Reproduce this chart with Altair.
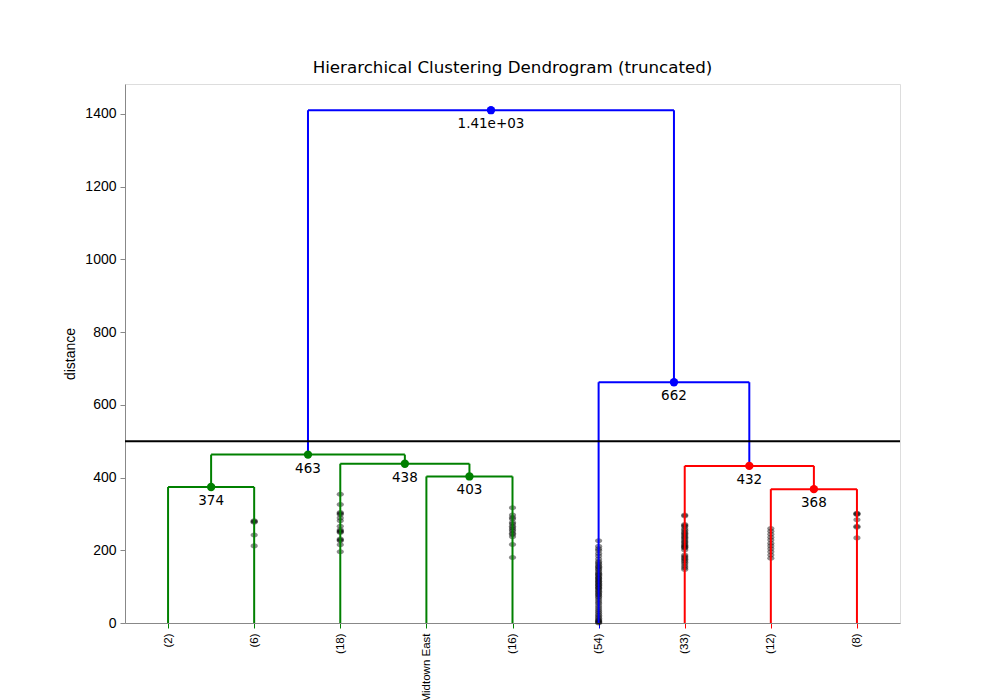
import altair as alt
import pandas as pd

# ---- data ----
leaf_labels = ["(2)", "(6)", "(18)", "Midtown East", "(16)", "(54)", "(33)", "(12)", "(8)"]
leaf_pos = [5, 15, 25, 35, 45, 55, 65, 75, 85]

# links: left child x / height, right child x / height, merge height, colour, label
link_xl = [75, 35, 5, 65, 25, 10, 55, 21.25]
link_yl = [0, 0, 0, 0, 0, 374, 0, 463]
link_xr = [85, 45, 15, 80, 40, 32.5, 72.5, 63.75]
link_yr = [0, 0, 0, 368, 403, 438, 432, 662]
link_h = [368, 403, 374, 432, 438, 463, 662, 1410]
link_color = ["red", "green", "green", "red", "green", "green", "blue", "blue"]
link_text = ["368", "403", "374", "432", "438", "463", "662", "1.41e+03"]

cut_height = 500

# contraction marks (heights of merges hidden inside truncated leaves)
marks_6 = [281, 279, 277, 242, 212]
marks_18 = [354, 326, 304, 301, 298, 281, 266, 256, 253, 251, 249, 231, 228, 226, 215, 196, 289]
marks_16 = [317, 297, 290, 286, 276, 272, 266, 262, 257, 253, 247, 243, 237, 216, 180]
marks_54 = [226, 211, 204, 199, 191, 184, 176, 169, 165, 161, 156, 153, 149, 146, 141, 137,
            134, 131, 127, 124, 122, 118, 115, 113, 109, 106, 104, 100, 97, 95, 91, 87,
            84, 80, 77, 73, 69, 63, 58, 53, 47, 41, 36, 31, 26, 21, 17, 13, 9, 6, 4, 2, 0]
marks_33 = [297, 294, 271, 268, 265, 259, 255, 250, 247, 243, 239, 236, 232, 228, 224, 221,
            217, 214, 211, 208, 206, 201, 187, 183, 179, 175, 171, 167, 162, 157, 152, 147]
marks_12 = [260, 252, 244, 236, 228, 219, 212, 204, 196, 187, 178]
marks_8 = [302, 300, 298, 284, 266, 263, 234]

# ---- tables ----
seg_rows = []
node_rows = []
for xl, yl, xr, yr, h, c, t in zip(link_xl, link_yl, link_xr, link_yr, link_h, link_color, link_text):
    seg_rows.append({"x": xl, "y": yl, "x2": xl, "y2": h, "c": c})
    seg_rows.append({"x": xl, "y": h, "x2": xr, "y2": h, "c": c})
    seg_rows.append({"x": xr, "y": yr, "x2": xr, "y2": h, "c": c})
    node_rows.append({"x": (xl + xr) / 2, "y": h, "c": c, "t": t})
segs = pd.DataFrame(seg_rows)
nodes = pd.DataFrame(node_rows)

mark_rows = []
for pos, vals in zip([15, 25, 45, 55, 65, 75, 85],
                     [marks_6, marks_18, marks_16, marks_54, marks_33, marks_12, marks_8]):
    for v in vals:
        mark_rows.append({"x": pos, "y": v})
marks = pd.DataFrame(mark_rows)

label_arr = "[" + ",".join("'" + s + "'" for s in leaf_labels) + "]"

xscale = alt.Scale(domain=[0, 90], nice=False, zero=False)
yscale = alt.Scale(domain=[0, 1482], nice=False)

xaxis = alt.Axis(values=leaf_pos, labelExpr=label_arr + "[round((datum.value-5)/10)]",
                 labelAngle=270, labelFontSize=11.5, labelPadding=5, tickSize=5,
                 labelLimit=0, title=None, grid=False,
                 tickColor={"condition": [{"test": "datum.value < 50", "value": "green"},
                                          {"test": "datum.value < 60", "value": "blue"}],
                            "value": "red"})
yaxis = alt.Axis(values=[0, 200, 400, 600, 800, 1000, 1200, 1400], format="d", title="distance",
                 labelFontSize=14, titleFontSize=14, titleFontWeight="normal",
                 tickSize=5, labelPadding=4, titlePadding=7, grid=False)

color_scale = alt.Scale(domain=["green", "red", "blue"], range=["green", "red", "blue"])

ellipse = "M -1 0 A 1 0.7 0 1 0 1 0 A 1 0.7 0 1 0 -1 0 Z"

dots = alt.Chart(marks).mark_point(shape=ellipse, size=52, filled=True, color="black",
                                   opacity=0.45, strokeWidth=0).encode(
    x=alt.X("x:Q", scale=xscale, axis=xaxis),
    y=alt.Y("y:Q", scale=yscale, axis=yaxis),
)

rules = alt.Chart(segs).mark_rule(strokeWidth=2).encode(
    x=alt.X("x:Q", scale=xscale), x2="x2:Q",
    y=alt.Y("y:Q", scale=yscale), y2="y2:Q",
    color=alt.Color("c:N", scale=color_scale, legend=None),
)

cut = alt.Chart(pd.DataFrame({"y": [cut_height]})).mark_rule(color="black", strokeWidth=2).encode(
    y=alt.Y("y:Q", scale=yscale)
)

node_pts = alt.Chart(nodes).mark_circle(size=70, opacity=1).encode(
    x=alt.X("x:Q", scale=xscale), y=alt.Y("y:Q", scale=yscale),
    color=alt.Color("c:N", scale=color_scale, legend=None),
)

node_txt = alt.Chart(nodes).mark_text(baseline="top", dy=7, fontSize=13.5, color="black",
                                      font="DejaVu Sans").encode(
    x=alt.X("x:Q", scale=xscale), y=alt.Y("y:Q", scale=yscale), text="t:N"
)

chart = alt.layer(dots, rules, cut, node_pts, node_txt).properties(
    width=775, height=539,
    title=alt.TitleParams("Hierarchical Clustering Dendrogram (truncated)", fontSize=16.7,
                          fontWeight="normal", font="DejaVu Sans", offset=7, color="black"),
    autosize=alt.AutoSizeParams(type="none"),
    padding={"left": 125, "top": 84, "right": 100, "bottom": 77},
).configure_view(stroke="black", strokeWidth=1).configure_axis(
    domainColor="black", labelColor="black", titleColor="black", labelFont="DejaVu Sans",
    titleFont="DejaVu Sans", domainWidth=1,
).configure(background="white")

chart.save("out.html", embed_options={"renderer": "svg", "actions": False})
